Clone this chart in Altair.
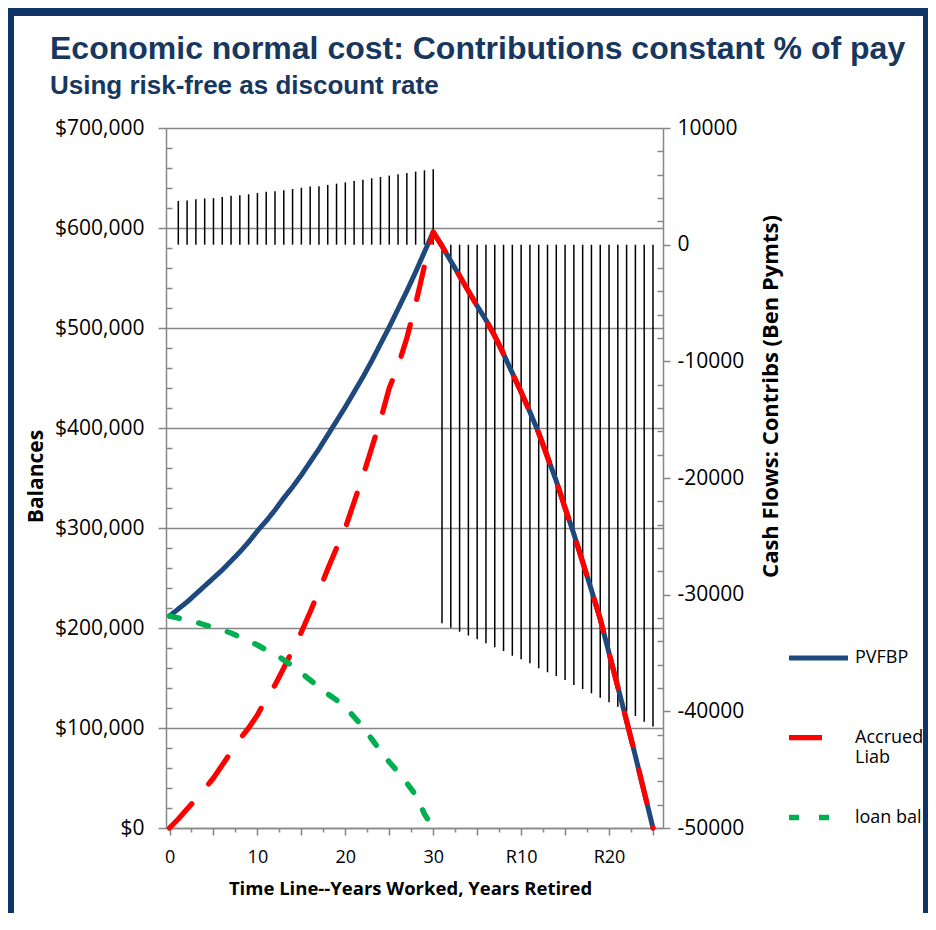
import altair as alt
import pandas as pd

# ---------------- data ----------------
# time line: 0..30 years worked, then R1..R25 years retired (index 31..55)
years = list(range(0, 56))
pvfbp_k = [212, 219, 226, 234, 242, 250, 258, 267, 276, 286,
           297, 307, 318, 330, 341, 353, 366, 379, 393, 407,
           421, 436, 451, 467, 484, 501, 519, 537, 556, 576,
           596, 582, 567, 552, 537, 522, 508, 492, 474, 455,
           436, 416, 395, 371, 347, 320, 294, 266, 238, 209,
           175, 141, 107, 72, 36, 0]
accrued_k = [0, 9, 19, 29, 39, 50, 63, 76, 89, 100,
             113, 129, 143, 160, 178, 196, 216, 237, 259, 280,
             300, 326, 352, 380, 408, 440, 462, 490, 524, 562,
             596, 582, 567, 552, 537, 522, 508, 492, 474, 455,
             436, 416, 395, 371, 347, 320, 294, 266, 238, 209,
             175, 141, 107, 72, 36, 0]
loan_k = [212, 210, 208, 206, 203, 201, 198, 195, 191, 187,
          183, 178, 174, 168, 162, 155, 148, 141, 134, 128,
          121, 111, 101, 89, 77, 66, 56, 45, 33, 14, 0]

cash_years = list(range(1, 56))
contribs = [3750, 3780, 3890, 3960, 3990, 4090, 4190, 4230, 4320, 4430,
            4540, 4580, 4660, 4770, 4880, 4990, 5010, 5120, 5230, 5340,
            5460, 5570, 5690, 5800, 5920, 6030, 6150, 6260, 6370, 6460]
benefits = [-32450, -32830, -33170, -33510, -33820, -34170, -34510, -34830,
            -35230, -35540, -35880, -36310, -36650, -36970, -37310, -37740,
            -38080, -38450, -38830, -39220, -39600, -40030, -40400, -40890,
            -41310]

series_names = ["PVFBP", "Accrued Liab", "loan bal"]
series_colors = ["#1f497d", "#ff0000", "#00b050"]
series_dash = [[1, 0], [33, 26], [10, 20]]
series_width = [5, 5.5, 4]

title_text = "Economic normal cost: Contributions constant % of pay"
subtitle_text = "Using risk-free as discount rate"

x_tick_values = [i * 2.5 for i in range(23)]
left_tick_values = list(range(0, 700001, 20000))
right_tick_values = list(range(-50000, 10001, 2000))

# ---------------- tables ----------------
rows = []
for name, vals in zip(series_names, [pvfbp_k, accrued_k, loan_k]):
    for t, v in zip(years, vals):
        rows.append({"t": t, "value": v * 1000, "series": name})
lines_df = pd.DataFrame(rows)
cash_df = pd.DataFrame({"t": cash_years, "cf": contribs + benefits})
one_row = pd.DataFrame({"k": [0]})

GRAY = "#878787"
NAVY = "#17375e"
FONT = "Open Sans"

x_scale = alt.Scale(domain=[-0.4, 56.14], nice=False, zero=False)
x_axis = alt.Axis(
    values=x_tick_values,
    labelExpr="datum.value % 10 === 0 ? (datum.value <= 30 ? '' + datum.value : 'R' + (datum.value - 30)) : ''",
    title="Time Line--Years Worked, Years Retired",
    titleFont=FONT, titleFontSize=18.5, titleFontWeight="bold", titleColor="black",
    titleX=244, titleY=60, titleAlign="center", titleBaseline="middle",
    labelFont=FONT, labelFontSize=18, labelColor="black", labelPadding=13,
    labelFlush=False, labelOverlap=False,
    domainColor=GRAY, domainWidth=1.5, tickColor=GRAY, tickWidth=1.5,
    tickSize={"condition": {"test": "datum.value % 5 === 0", "value": 7}, "value": 4},
    grid=False,
)

left_axis = alt.Axis(
    orient="left",
    values=left_tick_values,
    labelExpr="datum.value % 100000 === 0 ? format(datum.value, '$,') : ''",
    title="Balances",
    titleFont=FONT, titleFontSize=21, titleFontWeight="bold", titleColor="black",
    titleAngle=270, titleX=-130, titleY=348, titleAlign="center", titleBaseline="middle",
    labelFont=FONT, labelFontSize=21, labelColor="black", labelPadding=14,
    labelOverlap=False, labelFlush=False,
    domainColor=GRAY, domainWidth=1.5, tickColor=GRAY, tickWidth=1.5,
    tickSize={"condition": {"test": "datum.value % 100000 === 0", "value": 8}, "value": -6},
    grid=True, gridColor=GRAY, gridWidth=1.3,
    gridOpacity={"condition": {"test": "datum.value % 100000 !== 0", "value": 0}, "value": 1},
)

right_axis = alt.Axis(
    orient="right",
    values=right_tick_values,
    labelExpr="datum.value % 10000 === 0 ? '' + datum.value : ''",
    title="Cash Flows: Contribs (Ben Pymts)",
    titleFont=FONT, titleFontSize=22, titleFontWeight="bold", titleColor="black",
    titleAngle=270, titleX=107, titleY=268, titleAlign="center", titleBaseline="middle",
    labelFont=FONT, labelFontSize=21, labelColor="black", labelPadding=7,
    labelOverlap=False, labelFlush=False,
    domainColor=GRAY, domainWidth=1.5, tickColor=GRAY, tickWidth=1.5,
    tickSize={"condition": {"test": "datum.value % 10000 === 0", "value": 7}, "value": -6},
    grid=False,
)

legend = alt.Legend(
    title=None, orient="none", legendX=620, legendY=498, padding=0,
    symbolType="stroke", symbolSize=3481, labelOffset=4, rowPadding=18,
    labelFont=FONT, labelFontSize=18, labelColor="black", labelLimit=300,
    labelExpr="datum.label == 'Accrued Liab' ? ['Accrued', 'Liab'] : [datum.label, '']",
)

color_enc = alt.Color("series:N", scale=alt.Scale(domain=series_names, range=series_colors), legend=legend)
dash_enc = alt.StrokeDash("series:N", scale=alt.Scale(domain=series_names, range=series_dash), legend=legend)
width_enc = alt.StrokeWidth("series:N", scale=alt.Scale(domain=series_names, range=series_width), legend=legend)

y_left = alt.Y("value:Q", scale=alt.Scale(domain=[0, 700000], nice=False, zero=True), axis=left_axis)


def line_layer(name):
    return (
        alt.Chart(lines_df)
        .transform_filter(alt.datum.series == name)
        .mark_line(strokeCap="round", strokeJoin="round")
        .encode(
            x=alt.X("t:Q", scale=x_scale, axis=x_axis),
            y=y_left,
            color=color_enc,
            strokeDash=dash_enc,
            strokeWidth=width_enc,
            detail="series:N",
        )
    )


lines = alt.layer(line_layer("PVFBP"), line_layer("Accrued Liab"), line_layer("loan bal"))

bars = (
    alt.Chart(cash_df)
    .mark_rule(color="black", strokeWidth=1.5)
    .encode(
        x=alt.X("t:Q", scale=x_scale, axis=x_axis),
        y=alt.Y("cf:Q", scale=alt.Scale(domain=[-50000, 10000], nice=False, zero=False), axis=right_axis),
        y2=alt.datum(0),
    )
)

# decorative navy frame of the slide
FRAME = "#0e3565"
frame_top = alt.Chart(one_row).mark_rect(color=FRAME).encode(
    x=alt.value(-158), x2=alt.value(762), y=alt.value(-120), y2=alt.value(-112))
frame_left = alt.Chart(one_row).mark_rect(color=FRAME).encode(
    x=alt.value(-158), x2=alt.value(-152), y=alt.value(-120), y2=alt.value(785))
frame_right = alt.Chart(one_row).mark_rect(color=FRAME).encode(
    x=alt.value(757), x2=alt.value(762), y=alt.value(-120), y2=alt.value(785))

# slide title and subtitle (real text)
title_mark = alt.Chart(one_row).mark_text(
    text=title_text, font="Liberation Sans", fontSize=32, fontWeight="bold",
    color=NAVY, align="left", baseline="alphabetic",
).encode(x=alt.value(-116), y=alt.value(-69))
subtitle_mark = alt.Chart(one_row).mark_text(
    text=subtitle_text, font="Liberation Sans", fontSize=26, fontWeight="bold",
    color=NAVY, align="left", baseline="alphabetic",
).encode(x=alt.value(-116), y=alt.value(-34))

chart = (
    alt.layer(frame_top, frame_left, frame_right, title_mark, subtitle_mark, bars, lines)
    .resolve_scale(y="independent")
    .properties(
        width=497,
        height=700,
        padding={"left": 158, "top": 120, "right": 265, "bottom": 85},
        autosize=alt.AutoSizeParams(type="none"),
    )
    .configure_view(stroke=None)
    .configure(background="white")
)

chart.save("out.html", embed_options={"renderer": "svg", "actions": False})
